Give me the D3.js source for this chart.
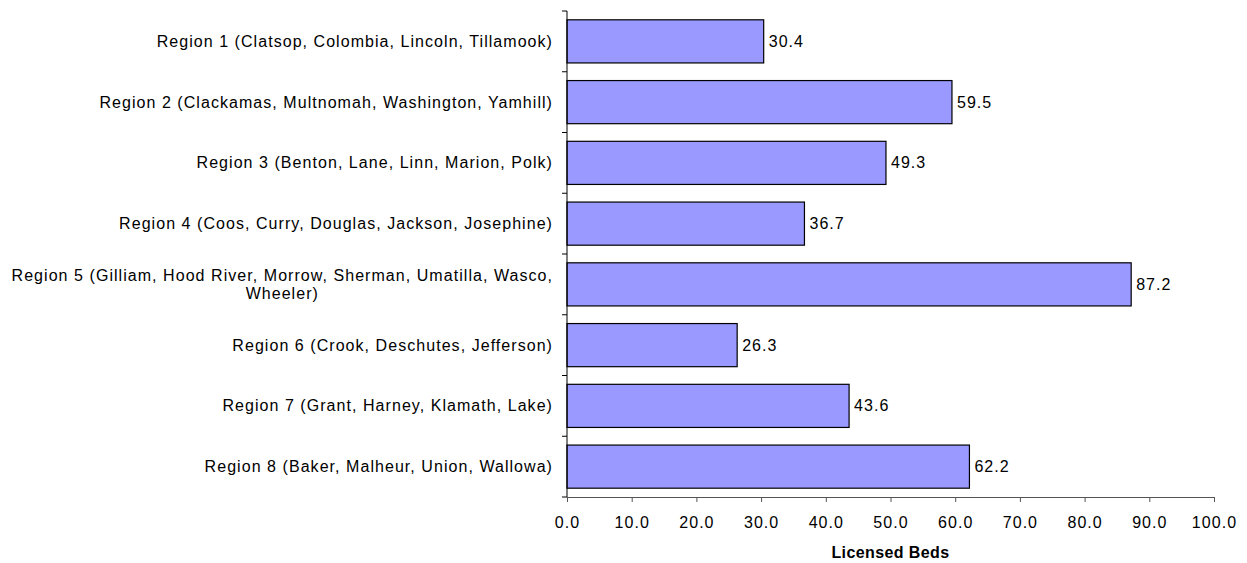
<!DOCTYPE html>
<html>
<head>
<meta charset="utf-8">
<script src="https://cdn.jsdelivr.net/npm/d3@7"></script>
<style>
  html, body { margin: 0; padding: 0; background: #fff; }
  svg { display: block; font-family: "Liberation Sans", Arial, sans-serif; }
</style>
</head>
<body>
<svg id="chart" width="1247" height="563"></svg>
<script>
// Licensed beds per region
const regions = [
  ["Region 1 (Clatsop, Colombia, Lincoln, Tillamook)"],
  ["Region 2 (Clackamas, Multnomah, Washington, Yamhill)"],
  ["Region 3 (Benton, Lane, Linn, Marion, Polk)"],
  ["Region 4 (Coos, Curry, Douglas, Jackson, Josephine)"],
  ["Region 5 (Gilliam, Hood River, Morrow, Sherman, Umatilla, Wasco,", "Wheeler)"],
  ["Region 6 (Crook, Deschutes, Jefferson)"],
  ["Region 7 (Grant, Harney, Klamath, Lake)"],
  ["Region 8 (Baker, Malheur, Union, Wallowa)"]
];
const beds = [30.4, 59.5, 49.3, 36.7, 87.2, 26.3, 43.6, 62.2];
const xTicks = [0, 10, 20, 30, 40, 50, 60, 70, 80, 90, 100];
const xTitle = "Licensed Beds";

const svg = d3.select("#chart");
const plotLeft = 567, plotRight = 1214, plotTop = 11, plotBottom = 497;
const fontSize = 16, spacing = 1.05;

const x = d3.scaleLinear().domain([0, 100]).range([plotLeft, plotRight]);
const y = d3.scaleBand().domain(d3.range(regions.length)).range([plotTop, plotBottom]).paddingInner(0.29).paddingOuter(0.145);
const band = d3.scaleBand().domain(d3.range(regions.length)).range([plotTop, plotBottom]);

// bars
svg.append("g").selectAll("rect").data(beds).join("rect")
  .attr("x", x(0))
  .attr("y", (d, i) => y(i))
  .attr("width", d => x(d) - x(0))
  .attr("height", y.bandwidth())
  .attr("fill", "#9999ff")
  .attr("stroke", "#000")
  .attr("stroke-width", 1.2);

// value labels
svg.append("g").selectAll("text").data(beds).join("text")
  .attr("x", d => x(d) + 5)
  .attr("y", (d, i) => y(i) + y.bandwidth() / 2)
  .attr("dy", "0.35em")
  .attr("font-size", fontSize)
  .attr("letter-spacing", spacing)
  .attr("fill", "#000")
  .text(d => d.toFixed(1));

// y axis line with boundary ticks
const yAxis = svg.append("g");
yAxis.append("line").attr("x1", plotLeft).attr("x2", plotLeft).attr("y1", plotTop).attr("y2", plotBottom)
  .attr("stroke", "#000").attr("stroke-width", 1);
yAxis.selectAll("line.tick").data(d3.range(regions.length + 1)).join("line")
  .attr("class", "tick")
  .attr("x1", plotLeft - 5).attr("x2", plotLeft)
  .attr("y1", i => plotTop + i * band.bandwidth())
  .attr("y2", i => plotTop + i * band.bandwidth())
  .attr("stroke", "#000");

// category labels (right-aligned; wrapped labels are centred on their widest line)
const labelRight = 553;
const labels = svg.append("g").selectAll("text").data(regions).join("text")
  .attr("font-size", fontSize)
  .attr("letter-spacing", spacing)
  .attr("fill", "#000")
  .attr("text-anchor", "end");
labels.each(function(lines, i) {
  const t = d3.select(this);
  const cy = y(i) + y.bandwidth() / 2;
  if (lines.length === 1) {
    t.attr("x", labelRight).attr("y", cy).attr("dy", "0.35em").text(lines[0]);
  } else {
    t.attr("text-anchor", "middle");
    const lh = 18;
    const y0 = cy - lh * (lines.length - 1) / 2;
    const spans = lines.map((l, k) => t.append("tspan").attr("y", y0 + lh * k).attr("dy", "0.35em").text(l));
    const w = d3.max(spans, s => s.node().getComputedTextLength());
    const cx = labelRight - w / 2;
    spans.forEach(s => s.attr("x", cx));
  }
});

// x axis
const xAxis = d3.axisBottom(x).tickValues(xTicks).tickFormat(d => d.toFixed(1)).tickSize(5).tickSizeOuter(0);
const gx = svg.append("g").attr("transform", `translate(0,${plotBottom})`).call(xAxis);
gx.select(".domain").attr("stroke", "#555");
gx.selectAll(".tick line").attr("stroke", "#555");
gx.selectAll(".tick text")
  .attr("font-size", fontSize)
  .attr("letter-spacing", spacing)
  .attr("fill", "#000")
  .attr("y", 31)
  .attr("dy", 0)
  .attr("font-family", "Liberation Sans, Arial, sans-serif");

svg.append("text")
  .attr("x", (plotLeft + plotRight) / 2)
  .attr("y", 558)
  .attr("text-anchor", "middle")
  .attr("font-size", 16)
  .attr("letter-spacing", 0.4)
  .attr("font-weight", "bold")
  .attr("fill", "#000")
  .text(xTitle);
</script>
</body>
</html>
